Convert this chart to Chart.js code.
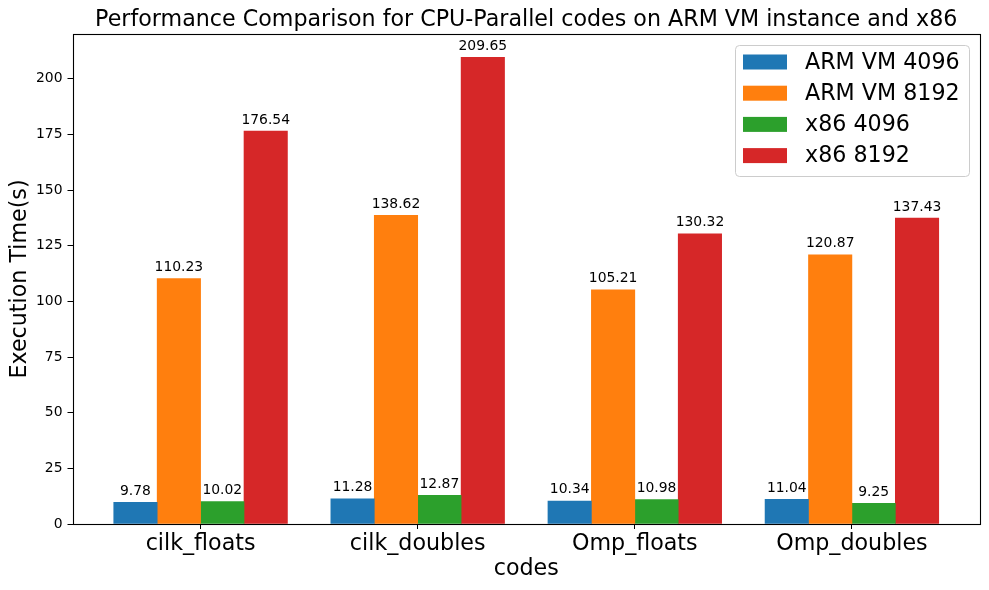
<!DOCTYPE html>
<html>
<head>
<meta charset="utf-8">
<script src="https://cdn.jsdelivr.net/npm/chart.js@4.4.1/dist/chart.umd.min.js"></script>
<style>
  html, body { margin: 0; padding: 0; background: #ffffff; }
  canvas { display: block; }
</style>
</head>
<body>
<canvas id="c" width="989" height="590"></canvas>
<script>
// ---- data ----
const categories = ["cilk_floats", "cilk_doubles", "Omp_floats", "Omp_doubles"];
const seriesNames = ["ARM VM 4096", "ARM VM 8192", "x86 4096", "x86 8192"];
const armVm4096 = [9.78, 11.28, 10.34, 11.04];
const armVm8192 = [110.23, 138.62, 105.21, 120.87];
const x86_4096 = [10.02, 12.87, 10.98, 9.25];
const x86_8192 = [176.54, 209.65, 130.32, 137.43];
const yTicks = [0, 25, 50, 75, 100, 125, 150, 175, 200];
const chartTitle = "Performance Comparison for CPU-Parallel codes on ARM VM instance and x86";

const seriesValues = [armVm4096, armVm8192, x86_4096, x86_8192];
const colors = ["#1f77b4", "#ff7f0e", "#2ca02c", "#d62728"];
const barWidth = 0.2;
const offsets = [-1.5, -0.5, 0.5, 1.5].map(k => k * barWidth);
const FONT = "'DejaVu Sans', sans-serif";

const datasets = seriesValues.map((vals, s) => ({
  label: seriesNames[s],
  data: vals.map((v, i) => ({ x: i + offsets[s], y: v })),
  backgroundColor: colors[s],
  borderWidth: 0,
  grouped: false,
  barPercentage: 1.0,
  categoryPercentage: 1.0
}));

const barLabels = {
  id: 'barLabels',
  afterDatasetsDraw(chart) {
    const ctx = chart.ctx;
    ctx.save();
    ctx.font = "13.9px " + FONT;
    ctx.fillStyle = "#000";
    ctx.textAlign = "center";
    ctx.textBaseline = "alphabetic";
    chart.data.datasets.forEach((ds, di) => {
      const meta = chart.getDatasetMeta(di);
      meta.data.forEach((el, i) => {
        ctx.fillText(ds.data[i].y.toFixed(2), el.x, el.y - 7.5);
      });
    });
    ctx.restore();
  }
};

const frame = {
  id: 'frame',
  afterDatasetsDraw(chart) {
    const a = chart.chartArea;
    const ctx = chart.ctx;
    ctx.save();
    ctx.strokeStyle = "#000";
    ctx.lineWidth = 1.1;
    ctx.strokeRect(Math.round(a.left) + 0.5, Math.round(a.top) + 0.5,
                   Math.round(a.right) - Math.round(a.left), Math.round(a.bottom) - Math.round(a.top));
    // title centered over the plot area
    ctx.font = "22.2px " + FONT;
    ctx.fillStyle = "#000";
    ctx.textAlign = "center";
    ctx.textBaseline = "alphabetic";
    ctx.fillText(chartTitle, (a.left + a.right) / 2, 26.3);
    ctx.restore();
  }
};

const innerLegend = {
  id: 'innerLegend',
  afterDraw(chart) {
    const ctx = chart.ctx;
    const a = chart.chartArea;
    const bx = a.right - 245, by = a.top + 11, bw = 234, bh = 131;
    ctx.save();
    ctx.beginPath();
    ctx.roundRect(bx + 0.5, by + 0.5, bw, bh, 4);
    ctx.fillStyle = "rgba(255,255,255,0.8)";
    ctx.fill();
    ctx.strokeStyle = "#cccccc";
    ctx.lineWidth = 1;
    ctx.stroke();
    ctx.font = "22.2px " + FONT;
    ctx.textAlign = "left";
    ctx.textBaseline = "middle";
    chart.data.datasets.forEach((ds, i) => {
      const cy = by + 17 + i * 31.2;
      ctx.fillStyle = ds.backgroundColor;
      ctx.fillRect(bx + 8, cy - 7.5, 44, 15);
      ctx.fillStyle = "#000";
      ctx.fillText(ds.label, bx + 70, cy + 1);
    });
    ctx.restore();
  }
};

new Chart(document.getElementById('c'), {
  type: 'bar',
  data: { datasets },
  options: {
    responsive: false,
    animation: false,
    layout: { padding: { left: 0, right: 9, top: 34, bottom: 0 } },
    plugins: {
      legend: { display: false },
      tooltip: { enabled: false },
      title: { display: false }
    },
    scales: {
      x: {
        type: 'linear',
        offset: false,
        min: -0.4 - 0.19,
        max: 3.4 + 0.19,
        afterBuildTicks: (axis) => { axis.ticks = categories.map((c, i) => ({ value: i })); },
        afterFit: (axis) => { axis.height = 66; },
        ticks: {
          autoSkip: false,
          maxRotation: 0,
          color: "#000",
          padding: 2,
          font: { family: FONT, size: 22.2 },
          callback: (v) => categories[v]
        },
        grid: { display: true, offset: false, drawOnChartArea: false, drawTicks: true, tickLength: 5, color: "#000", lineWidth: 1 },
        border: { display: false },
        title: {
          display: true, text: "codes", color: "#000",
          font: { family: FONT, size: 22.2, lineHeight: 1.2 },
          padding: { top: 0, bottom: 7.4 }
        }
      },
      y: {
        type: 'linear',
        min: 0,
        max: 209.65 * 1.05,
        afterBuildTicks: (axis) => { axis.ticks = yTicks.map(v => ({ value: v })); },
        afterFit: (axis) => { axis.width = 72.5; },
        ticks: {
          color: "#000",
          padding: 5,
          font: { family: FONT, size: 13.9 }
        },
        grid: { display: true, drawOnChartArea: false, drawTicks: true, tickLength: 5, color: "#000", lineWidth: 1 },
        border: { display: false },
        title: {
          display: true, text: "Execution Time(s)", color: "#000",
          font: { family: FONT, size: 22.2, lineHeight: 1.2 },
          padding: { top: 6.5, bottom: 0 }
        }
      }
    }
  },
  plugins: [barLabels, frame, innerLegend]
});
</script>
</body>
</html>
